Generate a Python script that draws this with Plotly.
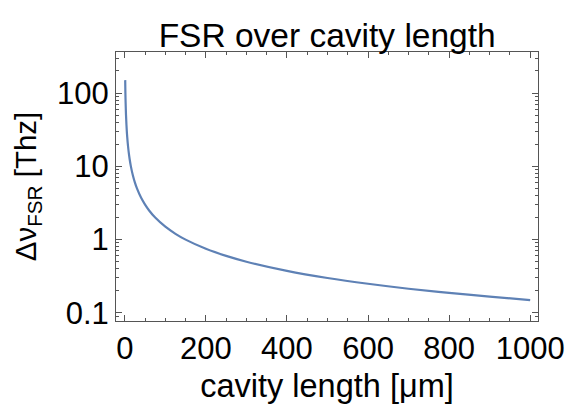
import plotly.graph_objects as go

# cavity length [µm] and free spectral range [THz]
cavity_length_um = [1, 1.5, 2, 3, 4, 5, 6, 8, 10, 12, 15, 20, 25, 30, 40, 50, 60, 75, 100,
                    125, 150, 200, 250, 300, 400, 500, 600, 700, 800, 900, 1000]
fsr_thz = [150, 100, 75, 50, 37.5, 30, 25, 18.8, 15, 12.5, 10, 7.5, 6.0, 5.0, 3.75, 3.0, 2.5, 2.0, 1.5,
           1.2, 1.0, 0.75, 0.6, 0.5, 0.375, 0.3, 0.25, 0.214, 0.1875, 0.167, 0.15]

x_ticks = [0, 200, 400, 600, 800, 1000]
y_ticks = [0.1, 1, 10, 100]
y_tick_text = ["0.1", "1", "10", "100"]

font_family = "Liberation Sans, Arial, sans-serif"

fig = go.Figure()
fig.add_trace(go.Scatter(x=cavity_length_um, y=fsr_thz, mode="lines",
                         line=dict(color="#5E81B5", width=2.2), line_shape="spline",
                         showlegend=False))

axis_common = dict(showgrid=False, zeroline=False, showline=True, linecolor="#555",
                   linewidth=1, mirror="ticks", ticks="inside", tickcolor="#555",
                   ticklen=6, tickfont=dict(size=31, color="black", family=font_family))

fig.update_xaxes(range=[-21.7, 1019.3], tickvals=x_ticks,
                 minor=dict(ticks="inside", dtick=50, tick0=0, ticklen=3, tickcolor="#555"),
                 title=dict(text="cavity length [μm]", font=dict(size=32.5, color="black", family=font_family),
                            standoff=9),
                 **axis_common)
fig.update_yaxes(type="log", range=[-1.11, 2.56], tickvals=y_ticks, ticktext=y_tick_text,
                 minor=dict(ticks="inside", dtick="D1", ticklen=3, tickcolor="#555"),
                 title=dict(text="Δν<sub>FSR</sub> [Thz]",
                            font=dict(size=29.5, color="black", family=font_family), standoff=11),
                 **axis_common)

fig.update_layout(
    width=576, height=410,
    margin=dict(l=116, r=28, t=52, b=89),
    paper_bgcolor="white", plot_bgcolor="white",
    title=dict(text="FSR over cavity length", x=0.568, xanchor="center", y=0.915, yanchor="middle",
               font=dict(size=33.5, color="black", family=font_family)),
)

fig.write_html("out.html")
